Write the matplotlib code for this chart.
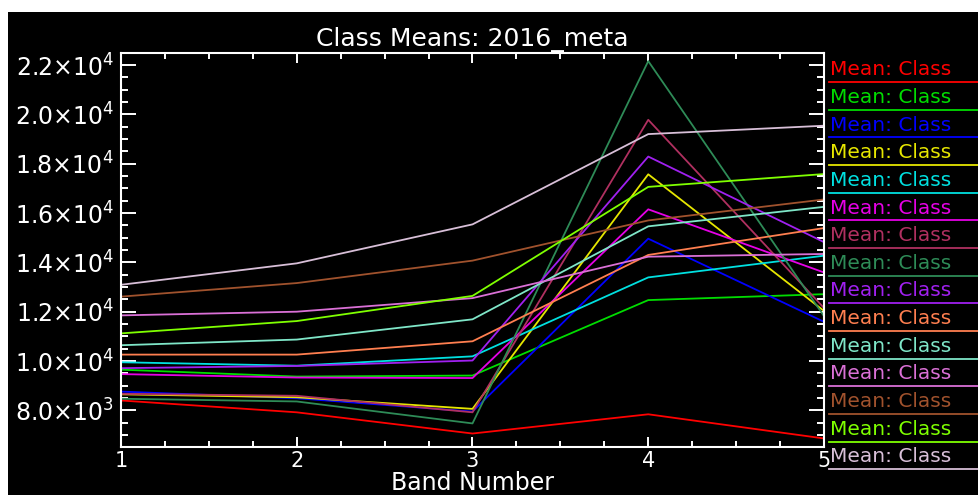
import matplotlib
matplotlib.use("Agg")
import matplotlib.pyplot as plt
from matplotlib.lines import Line2D
from matplotlib.patches import Rectangle
from matplotlib.ticker import MultipleLocator, FixedLocator

plt.rcParams['mathtext.fontset'] = 'dejavusans'

# Bandas e medias por classe
bands = [1, 2, 3, 4, 5]
class_1 = [8400, 7920, 7060, 7840, 6860]
class_2 = [9650, 9370, 9410, 12470, 12710]
class_3 = [8760, 8490, 7950, 14960, 11590]
class_4 = [8650, 8530, 8060, 17570, 12030]
class_5 = [9950, 9810, 10190, 13390, 14270]
class_6 = [9470, 9330, 9310, 16150, 13590]
class_7 = [8670, 8590, 7920, 19780, 12150]
class_8 = [8470, 8360, 7470, 22160, 11820]
class_9 = [9710, 9800, 10020, 18290, 14820]
class_10 = [10260, 10260, 10800, 14300, 15390]
class_11 = [10640, 10870, 11690, 15460, 16250]
class_12 = [11850, 12000, 12550, 14230, 14340]
class_13 = [12610, 13160, 14070, 15700, 16550]
class_14 = [11120, 11620, 12640, 17060, 17580]
class_15 = [13090, 13960, 15540, 19200, 19540]

series = [class_1, class_2, class_3, class_4, class_5, class_6, class_7, class_8,
          class_9, class_10, class_11, class_12, class_13, class_14, class_15]
labels = ["Mean: Class"] * 15
colors = ["#ff0000", "#00dd00", "#0000ff", "#e6e600", "#00e0e0", "#e600e6",
          "#b03060", "#2e8b57", "#a020f0", "#ff7f50", "#7fe6c8", "#da70d6",
          "#a0522d", "#7fff00", "#d8bfd8"]

ytick_vals = [8000, 10000, 12000, 14000, 16000, 18000, 20000, 22000]
ytick_labels = [r"$8.0{\times}10^{3}$", r"$1.0{\times}10^{4}$", r"$1.2{\times}10^{4}$",
                r"$1.4{\times}10^{4}$", r"$1.6{\times}10^{4}$", r"$1.8{\times}10^{4}$",
                r"$2.0{\times}10^{4}$", r"$2.2{\times}10^{4}$"]

W, H = 979, 495
fig = plt.figure(figsize=(W / 100, H / 100), dpi=100)
fig.patch.set_facecolor("white")
fig.patches.append(Rectangle((8 / W, 0), 1 - 8 / W, 1 - 12 / H, transform=fig.transFigure,
                             facecolor="black", edgecolor="none", zorder=-10))

ax = fig.add_axes([121 / W, 1 - 446.7 / H, (824 - 121) / W, (446.7 - 53.3) / H])
ax.set_facecolor("black")

for vals, c in zip(series, colors):
    ax.plot(bands, vals, color=c, lw=1.3)

ax.set_xlim(1, 5)
ax.set_ylim(6526, 22476)
ax.xaxis.set_major_locator(FixedLocator(bands))
ax.xaxis.set_minor_locator(MultipleLocator(0.25))
ax.yaxis.set_major_locator(FixedLocator(ytick_vals))
ax.yaxis.set_minor_locator(MultipleLocator(500))
ax.set_yticklabels(ytick_labels)

for s in ax.spines.values():
    s.set_color("white")
    s.set_linewidth(1.5)

ax.tick_params(which="both", direction="in", colors="white", top=True, right=True, width=1.4)
ax.tick_params(axis="x", which="major", length=7, labelsize=15, pad=3)
ax.tick_params(axis="x", which="minor", length=4)
ax.tick_params(axis="y", which="major", length=11, labelsize=17, pad=5)
ax.tick_params(axis="y", which="minor", length=5)

ax.set_title("Class Means: 2016_meta", color="white", fontsize=18, pad=5)
ax.set_xlabel("Band Number", color="white", fontsize=17, labelpad=0)

# Legenda manual a direita
for i, (lab, c) in enumerate(zip(labels, colors)):
    yt = 69.7 + i * 27.66
    yl = 82 + i * 27.66
    fig.text(830 / W, 1 - yt / H, lab, color=c, fontsize=14.5, va="center", ha="left")
    fig.lines.append(Line2D([829 / W, 1.0], [1 - yl / H, 1 - yl / H],
                            transform=fig.transFigure, color=c, lw=1.3))

fig.savefig("out.png", dpi=100, facecolor=fig.get_facecolor())
